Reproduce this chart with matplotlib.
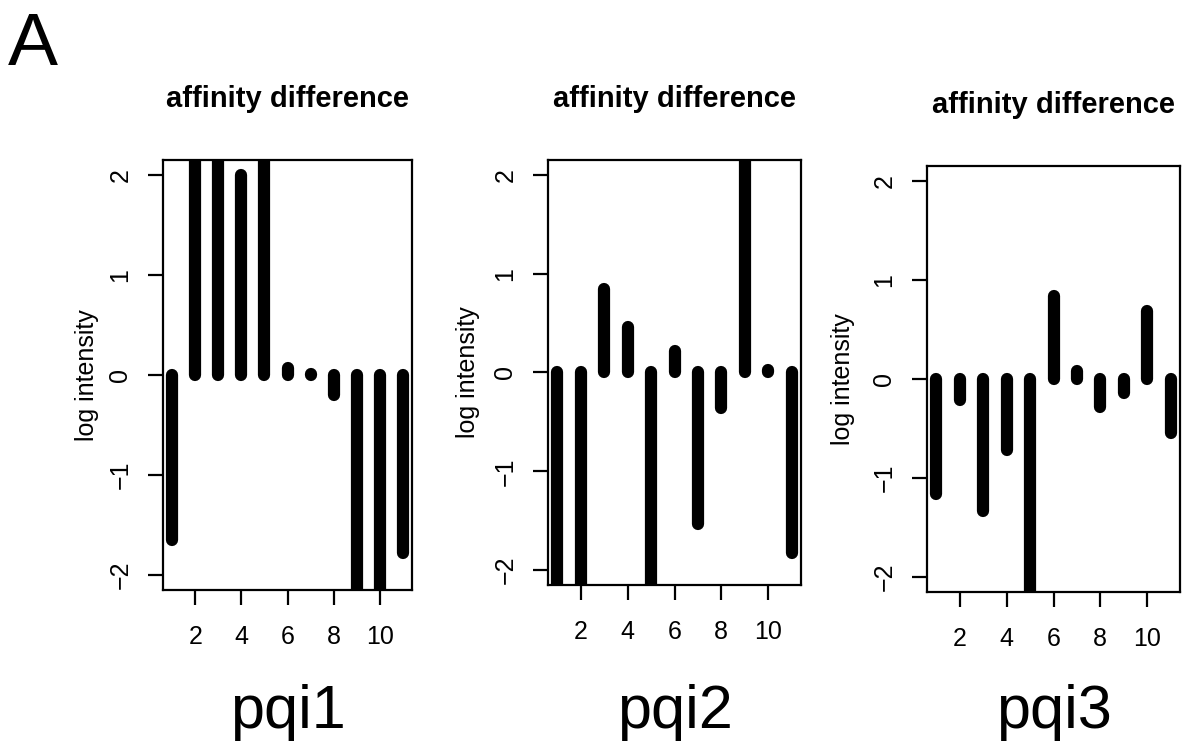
import numpy as np
import matplotlib.pyplot as plt

plt.rcParams['font.family'] = ['Liberation Sans', 'DejaVu Sans']

# probe index on the x axis, log intensity difference per probe
probes = np.arange(1, 12)
pqi1 = [-1.65, 2.6, 2.6, 2.0, 2.6, 0.07, 0.01, -0.2, -2.6, -2.6, -1.78]
pqi2 = [-2.6, -2.6, 0.84, 0.46, -2.6, 0.22, -1.53, -0.36, 2.6, 0.03, -1.83]
pqi3 = [-1.16, -0.21, -1.33, -0.72, -2.6, 0.84, 0.08, -0.28, -0.14, 0.69, -0.55]
names = ['pqi1', 'pqi2', 'pqi3']
series = [pqi1, pqi2, pqi3]
title = 'affinity difference'
ylab = 'log intensity'

W, H = 1184, 746
# plot boxes in pixels: left, top, right, bottom, and ylabel offset
boxes = [(163, 160, 412, 590, 64), (548, 160, 801, 585, 68), (927, 166, 1180, 592, 72)]

fig = plt.figure(figsize=(W / 100, H / 100), dpi=100)

for name, vals, (l, t, r, b, off) in zip(names, series, boxes):
    ax = fig.add_axes([l / W, 1 - b / H, (r - l) / W, (b - t) / H])
    for xi, v in zip(probes, vals):
        ax.plot([xi, xi], [0, v], color='black', lw=8.8, solid_capstyle='round')
    ax.set_xlim(0.6, 11.4)
    ax.set_ylim(-2.15, 2.15)
    ax.set_xticks([2, 4, 6, 8, 10])
    ax.set_yticks([-2, -1, 0, 1, 2])
    ax.tick_params(length=11, width=1.6, labelsize=18, color='black')
    ax.tick_params(axis='x', pad=14)
    ax.tick_params(axis='y', labelrotation=90, pad=11)
    for lab in ax.get_yticklabels():
        lab.set_va('center')
    for s in ax.spines.values():
        s.set_linewidth(1.6)
    ax.set_title(title, fontweight='bold', fontsize=21, pad=38)
    ax.set_ylabel(ylab, fontsize=18)
    ax.yaxis.set_label_coords(-off / (r - l), 0.5)
    fig.text((l + r) / 2 / W, 1 - 728 / H, name, fontsize=44, ha='center', va='baseline')

fig.text(8 / W, 1 - 65 / H, 'A', fontsize=54, va='baseline')

fig.savefig('out.png', dpi=100)
